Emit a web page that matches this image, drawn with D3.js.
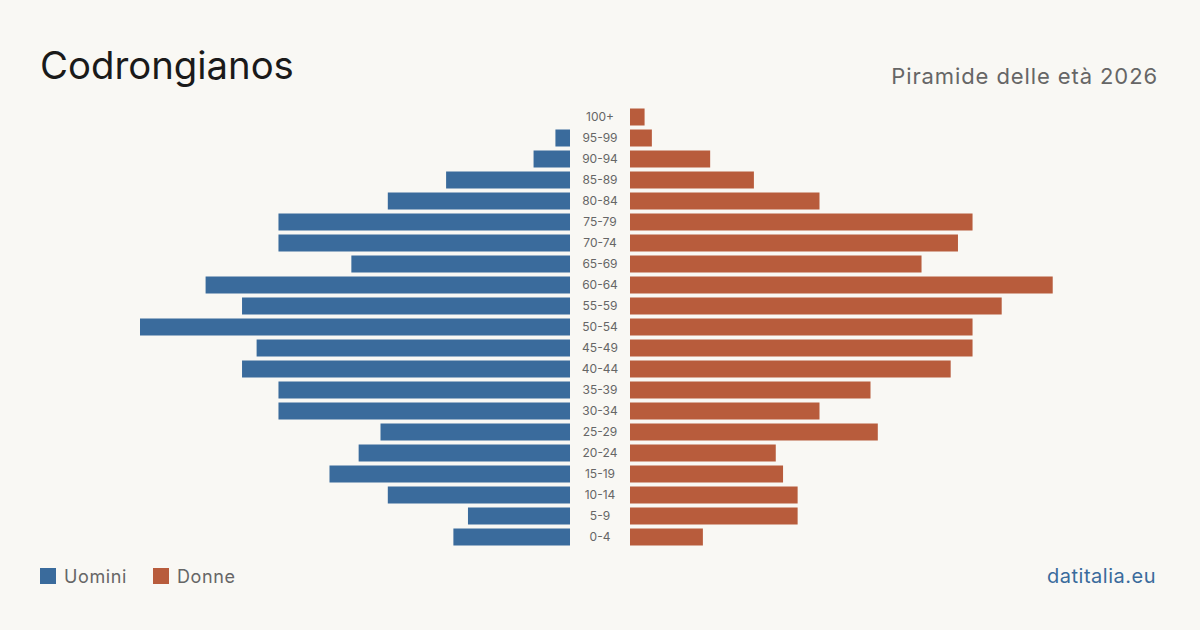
<!DOCTYPE html>
<html><head><meta charset="utf-8">
<script src="https://cdn.jsdelivr.net/npm/d3@7"></script>
<style>
html,body{margin:0;padding:0;background:#f9f8f4;}
svg{display:block;font-family:Inter,"Noto Sans",sans-serif;}
</style></head>
<body>
<svg id="c" width="1200" height="630"></svg>
<script>
const ageGroups = ["100+","95-99","90-94","85-89","80-84","75-79","70-74","65-69","60-64","55-59","50-54","45-49","40-44","35-39","30-34","25-29","20-24","15-19","10-14","5-9","0-4"];
const men   = [0,2,5,17,25,40,40,30,50,45,59,43,45,40,40,26,29,33,25,14,16];
const women = [2,3,11,17,26,47,45,40,58,51,47,47,44,33,26,34,20,21,23,23,10];
const seriesNames = ["Uomini","Donne"];
const colors = {men:"#3a6b9c", women:"#b85c3c"};

const svg = d3.select("#c");
svg.append("rect").attr("width",1200).attr("height",630).attr("fill","#f9f8f4");

const maxV = d3.max([...men,...women]);
const xL = d3.scaleLinear().domain([0,maxV]).range([570,140]);
const xR = d3.scaleLinear().domain([0,maxV]).range([630,1060]);
const y = d3.scaleBand().domain(ageGroups).range([106.5,547.5]).paddingInner(4/21).paddingOuter(2/21);

svg.append("g").selectAll("rect").data(ageGroups).join("rect")
  .attr("x",(d,i)=>xL(men[i])).attr("y",d=>y(d))
  .attr("width",(d,i)=>xL(0)-xL(men[i])).attr("height",y.bandwidth())
  .attr("fill",colors.men);
svg.append("g").selectAll("rect").data(ageGroups).join("rect")
  .attr("x",xR(0)).attr("y",d=>y(d))
  .attr("width",(d,i)=>xR(women[i])-xR(0)).attr("height",y.bandwidth())
  .attr("fill",colors.women);
svg.append("g").selectAll("text").data(ageGroups).join("text")
  .attr("x",600).attr("y",d=>y(d)+y.bandwidth()/2).attr("dy","0.35em")
  .attr("text-anchor","middle").attr("font-size",12).attr("fill","#666").text(d=>d);

svg.append("text").attr("x",40).attr("y",79).attr("font-size",38.3).attr("fill","#1a1a1a").text("Codrongianos");
svg.append("text").attr("x",1158).attr("y",84).attr("text-anchor","end").attr("font-size",22).attr("letter-spacing",0.9).attr("fill","#666").text("Piramide delle età 2026");

const leg = [{n:seriesNames[0],c:colors.men,x:40},{n:seriesNames[1],c:colors.women,x:153}];
leg.forEach(l=>{
  svg.append("rect").attr("x",l.x).attr("y",568).attr("width",16).attr("height",16).attr("fill",l.c);
  svg.append("text").attr("x",l.x+24).attr("y",583).attr("font-size",18).attr("letter-spacing",0.6).attr("fill","#666").text(l.n);
});
svg.append("text").attr("x",1156).attr("y",583).attr("text-anchor","end").attr("font-size",20).attr("letter-spacing",0.5).attr("fill","#3a6b9c").text("datitalia.eu");
</script>
</body></html>
